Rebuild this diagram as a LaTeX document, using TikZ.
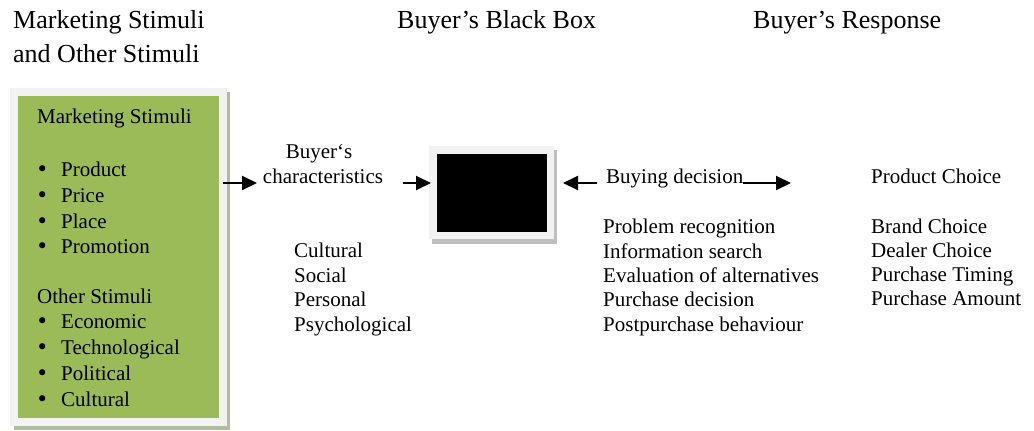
\documentclass[tikz,border=0pt]{standalone}
\usepackage{fontspec}
\setmainfont{Liberation Serif}
\newfontfamily\bulletfont{DejaVu Sans}
\usetikzlibrary{arrows.meta}
\definecolor{stimgreen}{HTML}{9BBB59}
\definecolor{framegray}{HTML}{F2F2F2}
\definecolor{greenshadow}{HTML}{B3BBA0}
\definecolor{boxshadow}{HTML}{BFBFBF}
\begin{document}
\begin{tikzpicture}[x=1pt,y=-1pt,
  title/.style={font=\rmfamily\fontsize{26}{33}\selectfont, anchor=base west, inner sep=0pt},
  body/.style={font=\rmfamily\fontsize{21}{25}\selectfont, anchor=base west, inner sep=0pt},
  bodyc/.style={font=\rmfamily\fontsize{21}{25}\selectfont, anchor=base, inner sep=0pt},
  bullet/.style={font=\bulletfont\fontsize{21}{25}\selectfont, anchor=base west, inner sep=0pt},
  panel/.style={draw=none, inner sep=0pt, anchor=north west},
  arr/.style={line width=2pt, -{Triangle[length=15pt,width=14pt]}}]
\useasboundingbox (0,0) rectangle (1034,431);

% column headings
\node[title] (hstim1) at (13,28) {Marketing Stimuli};
\node[title] (hstim2) at (13,62) {and Other Stimuli};
\node[title] (hbox)   at (397,28) {Buyer’s Black Box};
\node[title] (hresp)  at (753,28) {Buyer’s Response};

% stimuli panel: shadow, light frame, green fill
\node[panel, fill=greenshadow, minimum width=216pt, minimum height=338pt] (stimshadow) at (14,92) {};
\node[panel, fill=framegray, minimum width=217pt, minimum height=338pt] (stimframe) at (10,88) {};
\node[panel, fill=stimgreen, minimum width=201pt, minimum height=322pt] (stimfill) at (18,96) {};

\node[body] (msHead) at (37,123) {Marketing Stimuli};
\foreach \t/\y/\n in {Product/176/mp1, Price/202/mp2, Place/228/mp3, Promotion/253/mp4}{
  \node[bullet] (\n b) at (36,\y) {•};
  \node[body] (\n) at (61,\y) {\t};
}
\node[body] (osHead) at (37,303) {Other Stimuli};
\foreach \t/\y/\n in {Economic/328/os1, Technological/354/os2, Political/380/os3, Cultural/406/os4}{
  \node[bullet] (\n b) at (36,\y) {•};
  \node[body] (\n) at (61,\y) {\t};
}

% buyer's characteristics
\node[bodyc] (bc1) at (319,158) {Buyer‘s};
\node[bodyc] (bc2) at (323,183) {characteristics};
\foreach \t/\y/\n in {Cultural/257/ch1, Social/282/ch2, Personal/306/ch3, Psychological/331/ch4}{
  \node[body] (\n) at (294,\y) {\t};
}

% black box
\node[panel, fill=boxshadow, minimum width=125pt, minimum height=94pt] (bbshadow) at (432,150) {};
\node[panel, fill=framegray, minimum width=125pt, minimum height=93pt] (bbframe) at (429,146) {};
\node[panel, fill=black, minimum width=110pt, minimum height=78pt] (bbfill) at (437,154) {};

% buying decision process
\node[body] (bd) at (606,183) {Buying decision};
\foreach \t/\y/\n in {Problem recognition/233/dp1, Information search/258/dp2,
  Evaluation of alternatives/282/dp3, Purchase decision/306/dp4, Postpurchase behaviour/331/dp5}{
  \node[body] (\n) at (603,\y) {\t};
}

% responses
\node[body] (rc) at (871,183) {Product Choice};
\foreach \t/\y/\n in {Brand Choice/233/rs1, Dealer Choice/257/rs2, Purchase Timing/281/rs3, Purchase Amount/305/rs4}{
  \node[body] (\n) at (871,\y) {\t};
}

% connectors
\coordinate (a1s) at (223,183);
\coordinate (a1e) at (257,183);
\coordinate (a2s) at (403,183);
\coordinate (a3s) at (597,183);
\coordinate (a3e) at (563,183);
\coordinate (a4s) at (743,183);
\coordinate (a4e) at (791,183);
\draw[arr] (a1s) -- (a1e);
\draw[arr] (a2s) -- ([xshift=2pt]bbframe.west |- a2s);
\draw[arr] (a3s) -- (a3e);
\draw[arr] (a4s) -- (a4e);
\end{tikzpicture}
\end{document}
